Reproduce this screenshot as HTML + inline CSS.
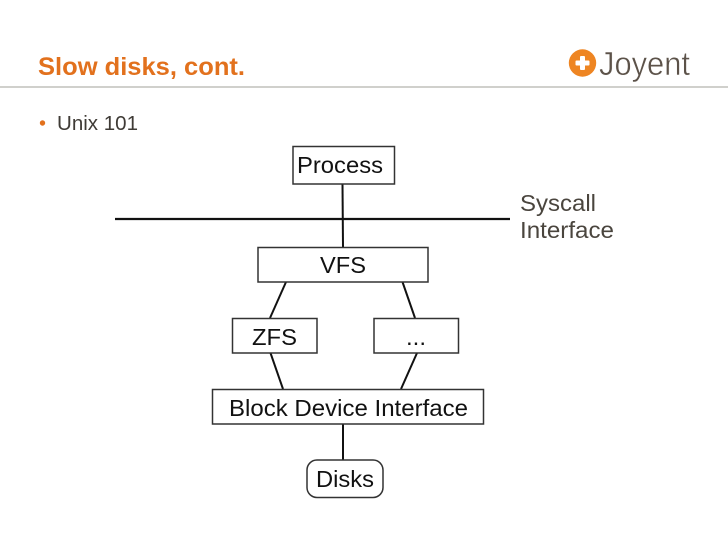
<!DOCTYPE html>
<html><head><meta charset="utf-8"><style>
html,body{margin:0;padding:0;background:#fff}
svg{display:block}
text{font-family:"Liberation Sans",Arial,sans-serif}
</style></head><body>
<svg width="728" height="546" viewBox="0 0 728 546" xmlns="http://www.w3.org/2000/svg">
<rect width="728" height="546" fill="#fff"/>
<rect x="0" y="86" width="728" height="2" fill="#d0d0cc"/>
<text x="38" y="75" font-size="25" font-weight="bold" fill="#e2711d" textLength="207" lengthAdjust="spacingAndGlyphs">Slow disks, cont.</text>
<circle cx="42.500" cy="123" r="2.700" fill="#e2711d"/>
<text x="57" y="130" font-size="20.500" fill="#3f3b36" textLength="81" lengthAdjust="spacingAndGlyphs">Unix 101</text>
<circle cx="582.500" cy="63" r="13.700" fill="#ee8522"/>
<rect x="575.500" y="60.500" width="14" height="5" rx="1" fill="#fff"/>
<rect x="580" y="56" width="5" height="14" rx="1" fill="#fff"/>
<text x="599" y="75" font-size="33" fill="#5c5249" stroke="#fff" stroke-width="0.500" textLength="91" lengthAdjust="spacingAndGlyphs">Joyent</text>
<g stroke="#111" stroke-width="2" fill="none">
<line x1="115" y1="219" x2="510" y2="219" stroke-width="2.200"/>
<line x1="342.500" y1="184" x2="343" y2="247"/>
<line x1="286" y1="282" x2="270" y2="318"/>
<line x1="402.500" y1="282" x2="415" y2="318"/>
<line x1="270.500" y1="353" x2="283" y2="389"/>
<line x1="417" y1="353" x2="401" y2="389"/>
<line x1="343" y1="424" x2="343" y2="460"/>
</g>
<g stroke="#333" stroke-width="1.500" fill="#fff">
<rect x="293" y="146.500" width="101.500" height="37.500"/>
<rect x="258" y="247.500" width="170" height="34.500"/>
<rect x="232.500" y="318.500" width="84.500" height="34.500"/>
<rect x="374" y="318.500" width="84.500" height="34.500"/>
<rect x="212.500" y="389.500" width="271" height="34.500"/>
<rect x="307" y="460" width="76" height="37.500" rx="10"/>
</g>
<g font-size="23.500" fill="#111">
<text x="297" y="173" textLength="86" lengthAdjust="spacingAndGlyphs">Process</text>
<text x="320" y="273" textLength="46" lengthAdjust="spacingAndGlyphs">VFS</text>
<text x="252" y="345" textLength="45" lengthAdjust="spacingAndGlyphs">ZFS</text>
<text x="406" y="345" textLength="20" lengthAdjust="spacingAndGlyphs">...</text>
<text x="229" y="416" textLength="239" lengthAdjust="spacingAndGlyphs">Block Device Interface</text>
<text x="316" y="487" textLength="58" lengthAdjust="spacingAndGlyphs">Disks</text>
</g>
<g font-size="23.500" fill="#4a453e">
<text x="520" y="211" textLength="76" lengthAdjust="spacingAndGlyphs">Syscall</text>
<text x="520" y="238" textLength="94" lengthAdjust="spacingAndGlyphs">Interface</text>
</g>
</svg>
</body></html>
